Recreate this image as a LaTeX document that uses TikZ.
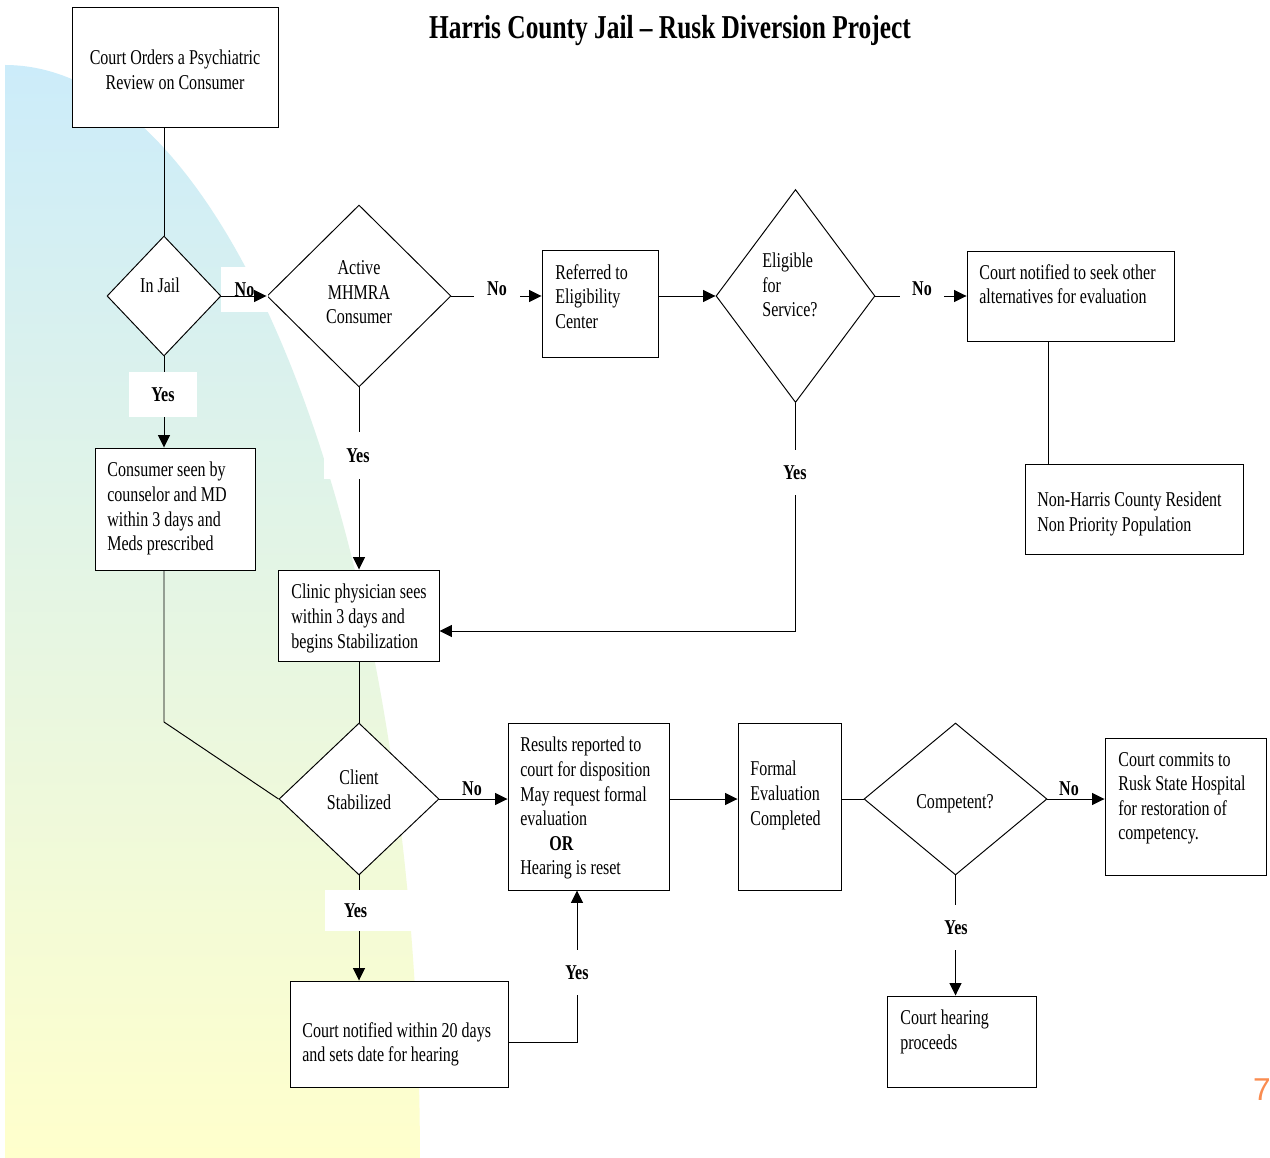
\documentclass[tikz,border=0pt]{standalone}
\usepackage{fontspec}
\setmainfont{Liberation Serif}[FakeStretch=0.76]
\newfontfamily\pagenumfont{Liberation Sans}
\usetikzlibrary{shapes.geometric,arrows.meta,calc}
\definecolor{bgblue}{RGB}{204,236,250}
\definecolor{bgyellow}{RGB}{255,255,204}
\definecolor{pagenum}{RGB}{250,140,80}
\tikzset{
 box/.style={draw, line width=0.55pt, fill=white, inner sep=0pt},
 dia/.style={draw, diamond, line width=0.55pt, fill=white, inner sep=0pt, aspect=1},
 txt/.style={inner sep=0pt, align=left, font=\fontsize{12}{13.95}\selectfont},
 ctxt/.style={inner sep=0pt, align=center, font=\fontsize{12}{13.95}\selectfont},
 lab/.style={inner sep=0pt, font=\fontsize{12}{14}\selectfont\bfseries},
 gap/.style={lab, fill=white},
 conn/.style={line width=0.55pt},
 arr/.style={conn, -{Triangle[length=0.25cm,width=0.24cm]}},
}
\begin{document}
\begin{tikzpicture}[x=0.02cm,y=-0.02cm]
\useasboundingbox (0,0) rectangle (1270,1158);
\fill[white] (0,0) rectangle (1270,1158);
\shade[top color=bgblue,bottom color=bgyellow] (5,1158) -- (5,65) arc[start angle=90,end angle=0,x radius=8.3cm,y radius=21.86cm] -- cycle;

\node[font=\fontsize{19}{22}\selectfont\bfseries,inner sep=0pt] (title) at (670,31) {Harris County Jail – Rusk Diversion Project};

\node[box,minimum width=4.12cm,minimum height=2.42cm] (court) at (175,67.5) {};
\node[ctxt,anchor=north] (tcourt) at (175,50) {Court Orders a Psychiatric\\Review on Consumer};
\node[dia,minimum width=2.28cm,minimum height=2.4cm] (jail) at (164,296) {};
\node[ctxt] (tjail) at (160,285) {In Jail};
\node[dia,minimum width=3.68cm,minimum height=3.64cm] (active) at (359,296) {};
\node[ctxt,anchor=north] (tactive) at (359,260.5) {Active\\MHMRA\\Consumer};
\node[box,minimum width=2.32cm,minimum height=2.14cm] (refer) at (600,303.5) {};
\node[txt,anchor=north west] (trefer) at (555,264) {Referred to\\Eligibility\\Center};
\node[dia,minimum width=3.18cm,minimum height=4.26cm] (elig) at (795.5,296) {};
\node[txt,anchor=north west] (telig) at (762,253) {Eligible\\for\\Service?};
\node[box,minimum width=4.14cm,minimum height=1.8cm] (notify) at (1070.5,296) {};
\node[txt,anchor=north west] (tnotify) at (979,264) {Court notified to seek other\\alternatives for evaluation};
\node[box,minimum width=4.36cm,minimum height=1.8cm] (nonharris) at (1134,509) {};
\node[txt,anchor=north west] (tnonharris) at (1037,492) {Non-Harris County Resident\\Non Priority Population};
\node[box,minimum width=3.2cm,minimum height=2.44cm] (seen) at (175,509) {};
\node[txt,anchor=north west] (tseen) at (107,462) {Consumer seen by\\counselor and MD\\within 3 days and\\Meds prescribed};
\node[box,minimum width=3.22cm,minimum height=1.82cm] (clinic) at (358.5,615.5) {};
\node[txt,anchor=north west] (tclinic) at (291,584) {Clinic physician sees\\within 3 days and\\begins Stabilization};
\node[dia,minimum width=3.2cm,minimum height=3.04cm] (stab) at (359,799) {};
\node[ctxt,anchor=north] (tstab) at (359,770) {Client\\Stabilized};
\node[box,minimum width=3.22cm,minimum height=3.34cm] (results) at (588.5,806.5) {};
\node[txt,anchor=north west] (tresults) at (520,737) {Results reported to\\court for disposition\\May request formal\\evaluation\\\hspace*{0.58cm}\textbf{OR}\\Hearing is reset};
\node[box,minimum width=2.06cm,minimum height=3.34cm] (formal) at (789.5,806.5) {};
\node[txt,anchor=north west] (tformal) at (750,761) {Formal\\Evaluation\\Completed};
\node[dia,minimum width=3.66cm,minimum height=3.04cm] (comp) at (955.5,799) {};
\node[ctxt] (tcomp) at (955,804) {Competent?};
\node[box,minimum width=3.22cm,minimum height=2.74cm] (commits) at (1185.5,806.5) {};
\node[txt,anchor=north west] (tcommits) at (1118,752) {Court commits to\\Rusk State Hospital\\for restoration of\\competency.};
\node[box,minimum width=4.36cm,minimum height=2.12cm] (notify20) at (399,1034) {};
\node[txt,anchor=north west] (tnotify20) at (302,1022) {Court notified within 20 days\\and sets date for hearing};
\node[box,minimum width=2.98cm,minimum height=1.82cm] (hearing) at (961.5,1041.5) {};
\node[txt,anchor=north west] (thearing) at (900,1010) {Court hearing\\proceeds};

\node[gap,minimum width=0.94cm,minimum height=0.9cm] (lno1) at (244.5,289.5) {No};
\node[gap,minimum width=0.92cm,minimum height=0.6cm] (lno2) at (497,289) {No};
\node[gap,minimum width=0.88cm,minimum height=0.6cm] (lno3) at (922,289) {No};
\node[gap,minimum width=1.36cm,minimum height=0.9cm] (lyes1) at (163,394.5) {Yes};
\node[gap,minimum width=1.36cm,minimum height=0.94cm] (lyes2) at (358,455.5) {Yes};
\node[gap,minimum width=0.9cm,minimum height=0.9cm] (lyes3) at (795,472.5) {Yes};
\node[gap,minimum width=1.72cm,minimum height=0.82cm,text width=1.72cm,align=left] (lyes4) at (368,910.5) {\hspace*{0.38cm}Yes};
\node[gap,minimum width=0.9cm,minimum height=0.9cm] (lyes5) at (577,972.5) {Yes};
\node[gap,minimum width=0.9cm,minimum height=0.9cm] (lyes6) at (956,927.5) {Yes};
\node[lab] (lno4) at (472,789) {No};
\node[lab] (lno5) at (1069,789) {No};

\node[font=\pagenumfont\fontsize{18}{20}\selectfont,text=pagenum,inner sep=0pt] (pnum) at (1262,1090) {7};

\coordinate (nx) at (1048,0);
\coordinate (ey) at (0,631);
\coordinate (bend) at (164,722);
\coordinate (ny) at (0,1042);

\draw[conn] (jail.north |- court.south) -- (jail.north);
\draw[arr] (jail.east) -- (active.west);
\draw[conn] (active.east) -- (lno2.west |- active.east);
\draw[arr] (lno2.east |- active.east) -- (refer.west |- active.east);
\draw[arr] (refer.east |- elig.west) -- (elig.west);
\draw[conn] (elig.east) -- (lno3.west |- elig.east);
\draw[arr] (lno3.east |- elig.east) -- (notify.west |- elig.east);
\draw[conn] (notify.south -| nx) -- (nonharris.north -| nx);
\draw[conn] (jail.south) -- (lyes1.north -| jail.south);
\draw[arr] (lyes1.south -| jail.south) -- (seen.north -| jail.south);
\draw[conn] (active.south) -- (lyes2.north -| active.south);
\draw[arr] (lyes2.south -| active.south) -- (clinic.north -| active.south);
\draw[conn] (elig.south) -- (lyes3.north -| elig.south);
\draw[arr] (lyes3.south -| elig.south) -- (elig.south |- ey) -- (clinic.east |- ey);
\draw[conn] (seen.south -| bend) -- (bend) -- (stab.west);
\draw[conn] (stab.north |- clinic.south) -- (stab.north);
\draw[arr] (stab.east) -- (results.west |- stab.east);
\draw[conn] (stab.south) -- (stab.south |- lyes4.north);
\draw[arr] (stab.south |- lyes4.south) -- (stab.south |- notify20.north);
\draw[conn] (notify20.east |- ny) -- (lyes5.south |- ny) -- (lyes5.south);
\draw[arr] (lyes5.north) -- (lyes5.north |- results.south);
\draw[arr] (results.east |- stab.east) -- (formal.west |- stab.east);
\draw[conn] (formal.east |- comp.west) -- (comp.west);
\draw[arr] (comp.east) -- (commits.west |- comp.east);
\draw[conn] (comp.south) -- (lyes6.north -| comp.south);
\draw[arr] (lyes6.south -| comp.south) -- (hearing.north -| comp.south);
\end{tikzpicture}
\end{document}
